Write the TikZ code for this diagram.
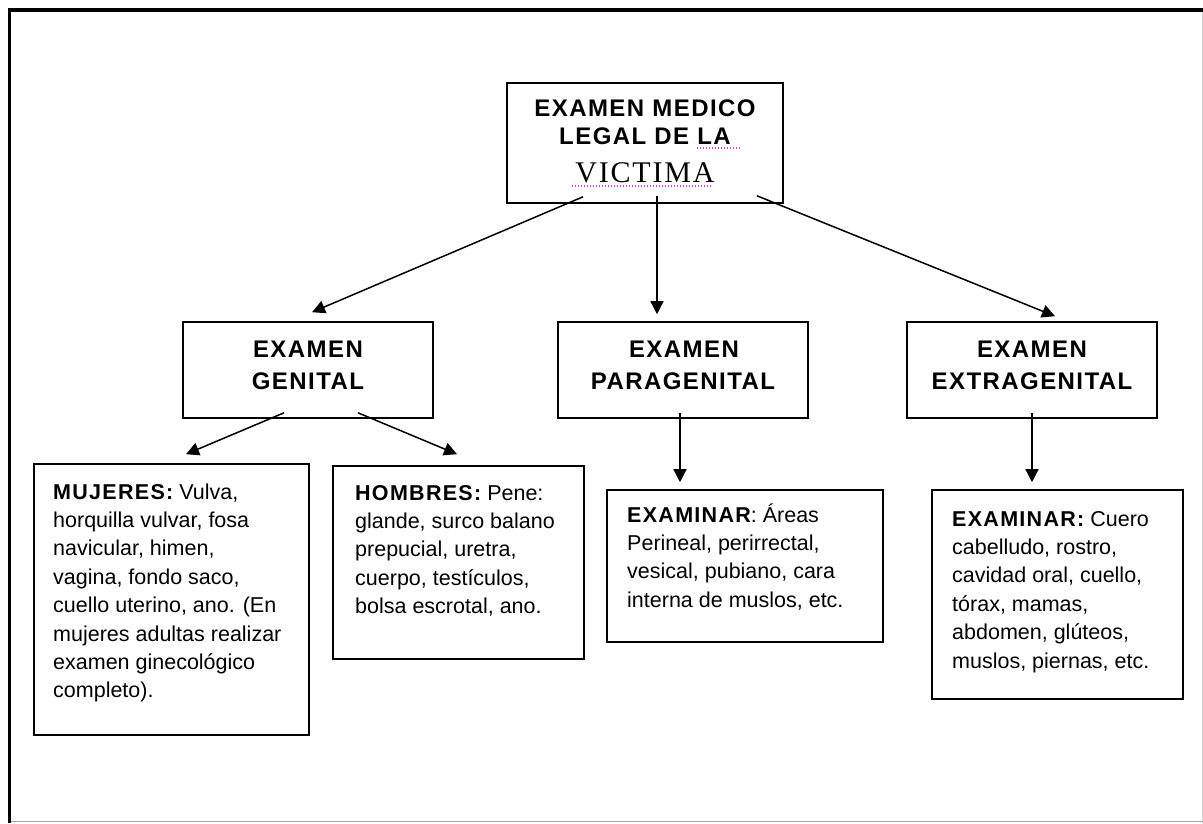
\documentclass[tikz,border=0pt]{standalone}
\usepackage{fontspec}
\setmainfont{Liberation Sans}
\newfontfamily\hfont[LetterSpace=6]{Liberation Sans}
\newfontfamily\sfont[LetterSpace=6]{Liberation Serif}
\usetikzlibrary{arrows.meta}
\definecolor{spell}{HTML}{E040E0}
\tikzset{
  box/.style={draw=black, line width=1.6pt, rectangle, inner sep=0pt},
  head/.style={anchor=base, inner sep=0pt, font=\hfont\bfseries\fontsize{24}{28}\selectfont},
  serifhead/.style={anchor=base, inner sep=0pt, font=\sfont\fontsize{30}{34}\selectfont},
  body/.style={anchor=base west, inner sep=0pt, font=\fontsize{21.5}{28.4}\selectfont},
  arr/.style={line width=1.5pt, -{Triangle[length=13pt,width=13pt]}},
  spellmark/.style={spell, line width=1.3pt, dash pattern=on 1.2pt off 1.8pt},
}
\newcommand\lab[1]{{\hfont\bfseries #1}}
\begin{document}
\begin{tikzpicture}[x=1pt,y=-1pt]
\useasboundingbox (0,0) rectangle (1203,823);
% frame
\draw[line width=1pt, gray!35] (1202,10) -- (1202,823);
\draw[line width=1.2pt, gray!70] (9,821.5) -- (1203,821.5);
\draw[line width=3.5pt, line join=miter] (9.5,823) -- (9.5,10) -- (1203,10);

% boxes
\node[box, minimum width=276pt, minimum height=120pt] (top) at (645,143) {};
\node[box, minimum width=250pt, minimum height=96pt] (gen) at (308,370) {};
\node[box, minimum width=250pt, minimum height=96pt] (para) at (683,370) {};
\node[box, minimum width=250pt, minimum height=96pt] (extra) at (1032,370) {};
\node[box, minimum width=275pt, minimum height=271pt] (muj) at (171.5,599.5) {};
\node[box, minimum width=251pt, minimum height=193pt] (hom) at (458.5,562.5) {};
\node[box, minimum width=276pt, minimum height=152pt] (exp) at (745,566) {};
\node[box, minimum width=251pt, minimum height=209pt] (exe) at (1057.5,594.5) {};

% top box text
\node[head] (t1) at (645,116) {EXAMEN MEDICO};
\node[head] (t2) at (645,144) {LEGAL DE LA};
\node[serifhead] (t3) at (645,182) {VICTIMA};
\draw[spellmark] (697,148) -- (740,148);
\draw[spellmark] (572,186) -- (713,186);

% headings
\node[head] (g1) at (308,357) {EXAMEN};
\node[head] (g2) at (308,389) {GENITAL};
\node[head] (p1) at (684,357) {EXAMEN};
\node[head] (p2) at (683,389) {PARAGENITAL};
\node[head] (e1) at (1032,357) {EXAMEN};
\node[head] (e2) at (1032,389) {EXTRAGENITAL};

% body texts
\node[body] (mujt) at (53,499) {\parbox[t]{250pt}{\raggedright\lab{MUJERES:} Vulva,\\
horquilla vulvar, fosa\\ navicular, himen,\\ vagina, fondo saco,\\ cuello uterino, ano. (En\\
mujeres adultas realizar\\ examen ginecológico\\ completo).}};
\node[body] (homt) at (355,500) {\parbox[t]{230pt}{\raggedright\lab{HOMBRES:} Pene:\\
glande, surco balano\\ prepucial, uretra,\\ cuerpo, testículos,\\ bolsa escrotal, ano.}};
\node[body] (expt) at (627,522) {\parbox[t]{250pt}{\raggedright\lab{EXAMINAR}: Áreas\\
Perineal, perirrectal,\\ vesical, pubiano, cara\\ interna de muslos, etc.}};
\node[body] (exet) at (952,526) {\parbox[t]{230pt}{\raggedright\lab{EXAMINAR:} Cuero\\
cabelludo, rostro,\\ cavidad oral, cuello,\\ tórax, mamas,\\ abdomen, glúteos,\\ muslos, piernas, etc.}};

% connectors
\draw[arr] ([xshift=-62pt,yshift=7pt]top.south) -- ([xshift=4pt,yshift=9pt]gen.north);
\draw[arr] ([xshift=12pt,yshift=8pt]top.south) -- ([xshift=-26pt,yshift=7pt]para.north);
\draw[arr] ([xshift=112pt,yshift=8pt]top.south) -- ([xshift=23pt,yshift=5pt]extra.north);
\draw[arr] ([xshift=-24pt,yshift=6pt]gen.south) -- ([xshift=14.5pt,yshift=9pt]muj.north);
\draw[arr] ([xshift=50pt,yshift=6pt]gen.south) -- ([xshift=-1.5pt,yshift=11pt]hom.north);
\draw[arr] ([xshift=-3pt,yshift=6pt]para.south) -- ([xshift=-65pt,yshift=7pt]exp.north);
\draw[arr] ([xshift=0pt,yshift=6pt]extra.south) -- ([xshift=-25.5pt,yshift=7pt]exe.north);
\end{tikzpicture}
\end{document}
